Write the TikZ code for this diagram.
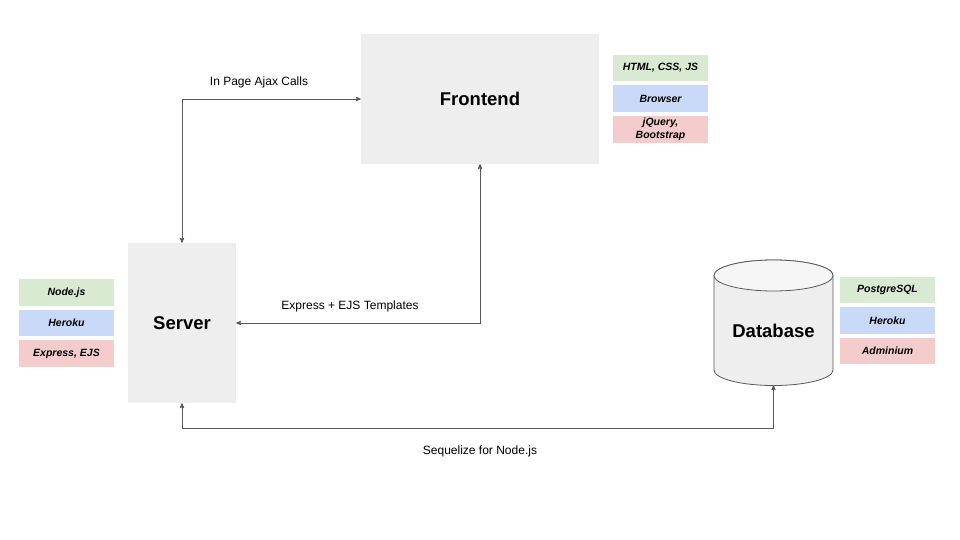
\documentclass[tikz,border=0pt]{standalone}
\usepackage{fontspec}
\setmainfont{Liberation Sans}
\usetikzlibrary{shapes,arrows}
\definecolor{boxGray}{RGB}{238,238,238}
\definecolor{tagGreen}{RGB}{217,234,211}
\definecolor{tagBlue}{RGB}{201,218,248}
\definecolor{tagRed}{RGB}{244,204,204}
\definecolor{lineGray}{RGB}{89,89,89}

\begin{document}
\begin{tikzpicture}[x=1pt, y=-1pt]%
  \tikzset{link arrow/.style={draw,<->,>=stealth',line width=0.8pt,lineGray}}
  \tikzstyle{block}=[fill=boxGray, draw=none, inner sep=0pt, font=\bfseries\fontsize{18.5}{22}\selectfont]
  \tikzstyle{tag}=[draw=none, minimum width=95pt, minimum height=26.5pt, inner sep=0pt, align=center, font=\bfseries\itshape\fontsize{10.5}{12.5}\selectfont]
  \tikzstyle{linklabel}=[font=\fontsize{12}{14}\selectfont, inner sep=0pt]

  \useasboundingbox (0,0) rectangle (960,540);

  \node[block, minimum width=238pt, minimum height=130pt] at (480,99) (FE) {Frontend};
  \node[block, minimum width=108pt, minimum height=160pt] at (182,323) (SV) {Server};

  % database cylinder
  \path[fill=boxGray, draw=lineGray, line width=0.8pt] (714,275.5) -- (714,370)
    arc[start angle=180, end angle=0, x radius=59.5, y radius=15.5] -- (833,275.5)
    arc[start angle=0, end angle=-180, x radius=59.5, y radius=15.5] -- cycle;
  \draw[fill=boxGray!60!white, draw=lineGray, line width=0.8pt] (773.5,275.5) ellipse [x radius=59.5, y radius=15.5];
  \node[block, fill=none, minimum width=119pt, minimum height=108pt] at (773.5,331) (DB) {Database};

  \node[tag, fill=tagGreen] at (660.5,68) (FEtech) {HTML, CSS, JS};
  \node[tag, fill=tagBlue] at (660.5,98.5) (FEhost) {Browser};
  \node[tag, fill=tagRed] at (660.5,129.5) (FElib) {jQuery,\\Bootstrap};

  \node[tag, fill=tagGreen] at (66.5,292.5) (SVtech) {Node.js};
  \node[tag, fill=tagBlue] at (66.5,323) (SVhost) {Heroku};
  \node[tag, fill=tagRed] at (66.5,353.5) (SVlib) {Express, EJS};

  \node[tag, fill=tagGreen] at (887.5,290) (DBtech) {PostgreSQL};
  \node[tag, fill=tagBlue] at (887.5,320.5) (DBhost) {Heroku};
  \node[tag, fill=tagRed] at (887.5,351) (DBlib) {Adminium};

  \path[link arrow] (SV.north) |- (FE.west);
  \path[link arrow] (FE.south) |- (SV.east);
  \path[link arrow] (SV.south) -- ++(0,25) -| (DB.south);

  \node[linklabel] at (259,82) (ajaxLbl) {In Page Ajax Calls};
  \node[linklabel] at (350,306) (ejsLbl) {Express + EJS Templates};
  \node[linklabel] at (480,451) (seqLbl) {Sequelize for Node.js};
\end{tikzpicture}
\end{document}
